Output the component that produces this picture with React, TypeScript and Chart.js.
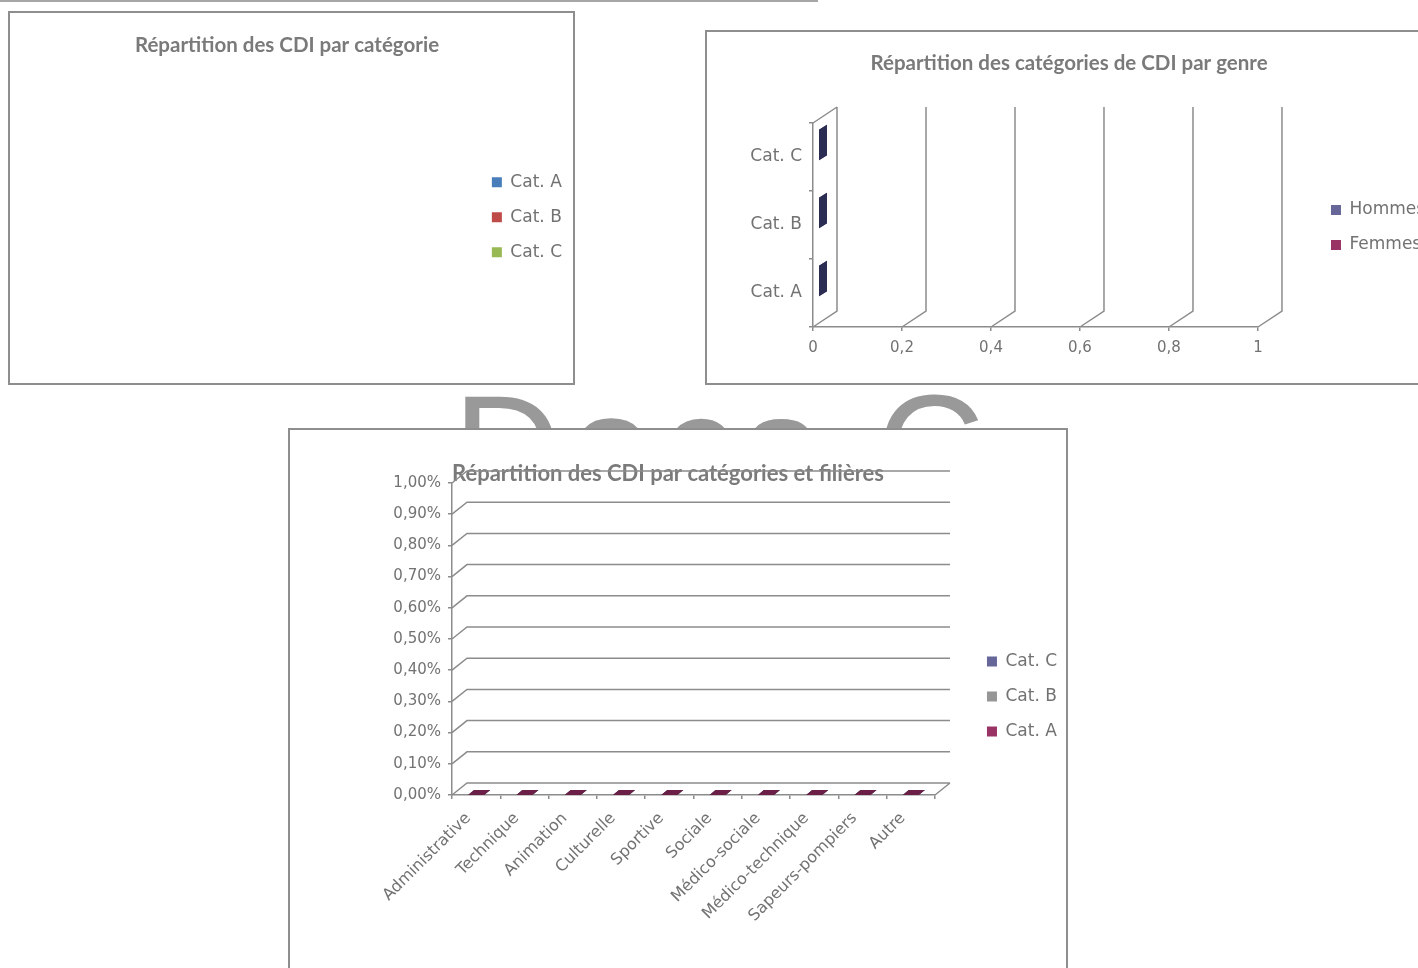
import React, { useEffect, useRef } from 'react';
import { Chart, registerables } from 'chart.js';

Chart.register(...registerables);

// ---------------- Data ----------------
const pieCategories = ['Cat. A', 'Cat. B', 'Cat. C'];
const pieValues = [0, 0, 0];

const genderCategories = ['Cat. A', 'Cat. B', 'Cat. C'];
const hommesValues = [0, 0, 0];
const femmesValues = [0, 0, 0];
const genderTickValues = [0, 0.2, 0.4, 0.6, 0.8, 1];

const filieres = [
  'Administrative',
  'Technique',
  'Animation',
  'Culturelle',
  'Sportive',
  'Sociale',
  'Médico-sociale',
  'Médico-technique',
  'Sapeurs-pompiers',
  'Autre',
];
const catAValues = [0, 0, 0, 0, 0, 0, 0, 0, 0, 0];
const catBValues = [0, 0, 0, 0, 0, 0, 0, 0, 0, 0];
const catCValues = [0, 0, 0, 0, 0, 0, 0, 0, 0, 0];
const percentTickValues = [0, 0.001, 0.002, 0.003, 0.004, 0.005, 0.006, 0.007, 0.008, 0.009, 0.01];

// ---------------- Styles ----------------
const TITLE_FONT = { family: 'Lato', weight: 'bold', size: 20.5 };
const TITLE_FONT_BIG = { family: 'Lato', weight: 'bold', size: 22 };
const TITLE_COLOR = '#7a7a7a';
const LABEL_FONT = { family: 'DejaVu Sans', size: 17 };
const NUM_FONT = { family: 'DejaVu Sans', size: 15 };
const ROT_FONT = { family: 'DejaVu Sans', size: 16 };
const TEXT_COLOR = '#727272';
const AXIS_COLOR = '#8c8c8c';

const fmtDec = (v: number) => String(Math.round(v * 10) / 10).replace('.', ',');
const fmtPct = (v: number) => (v * 100).toFixed(2).replace('.', ',') + '%';

// ---------------- Plugins ----------------
const threeDPlugin = {
  id: 'threeD',
  beforeDatasetsDraw(chart: any, _args: any, opts: any) {
    if (!opts || !opts.mode) return;
    const ctx = chart.ctx;
    const { left, right, top, bottom } = chart.chartArea;
    const dx = opts.dx;
    const dy = opts.dy;
    ctx.save();
    ctx.strokeStyle = opts.color;
    ctx.lineWidth = opts.lineWidth;
    ctx.beginPath();
    if (opts.mode === 'horizontal') {
      const xs = chart.scales.x;
      xs.ticks.forEach((t: any) => {
        const px = xs.getPixelForValue(t.value);
        ctx.moveTo(px, bottom);
        ctx.lineTo(px + dx, bottom - dy);
        ctx.lineTo(px + dx, top - dy);
      });
      ctx.moveTo(left, top);
      ctx.lineTo(left + dx, top - dy);
    } else {
      const ys = chart.scales.y;
      ys.ticks.forEach((t: any) => {
        const py = ys.getPixelForValue(t.value);
        ctx.moveTo(left, py);
        ctx.lineTo(left + dx, py - dy);
        ctx.lineTo(right + dx, py - dy);
      });
      ctx.moveTo(right, bottom);
      ctx.lineTo(right + dx, bottom - dy);
    }
    ctx.stroke();
    ctx.restore();
  },
  afterDatasetsDraw(chart: any, _args: any, opts: any) {
    if (!opts || !opts.mode) return;
    const ctx = chart.ctx;
    const f = opts.face;
    ctx.save();
    for (let i = chart.data.datasets.length - 1; i >= 0; i--) {
      const meta = chart.getDatasetMeta(i);
      if (meta.hidden) continue;
      ctx.fillStyle = opts.faceColors[i];
      meta.data.forEach((el: any) => {
        const p = el.getProps(['x', 'y', 'base', 'width', 'height'], true);
        ctx.beginPath();
        if (opts.mode === 'horizontal') {
          const e = Math.max(p.x, p.base);
          const yT = p.y - p.height / 2;
          const yB = p.y + p.height / 2;
          ctx.moveTo(e + f.x0, yT - f.y0);
          ctx.lineTo(e + f.x1, yT - f.y1);
          ctx.lineTo(e + f.x1, yB - f.y1);
          ctx.lineTo(e + f.x0, yB - f.y0);
        } else {
          const t = Math.min(p.y, p.base);
          const xL = p.x - p.width / 2;
          const xR = p.x + p.width / 2;
          ctx.moveTo(xL + f.x0, t - f.y0);
          ctx.lineTo(xR + f.x0, t - f.y0);
          ctx.lineTo(xR + f.x1, t - f.y1);
          ctx.lineTo(xL + f.x1, t - f.y1);
        }
        ctx.closePath();
        ctx.fill();
      });
    }
    ctx.restore();
  },
};

// moves the legend / title blocks after the layout has been computed
const boxShiftPlugin = {
  id: 'boxShift',
  afterLayout(chart: any, _args: any, opts: any) {
    const move = (b: any, s: any) => {
      if (!b || !s) return;
      const dx = s.dx || 0;
      const dy = s.dy || 0;
      b.left += dx;
      b.right += dx;
      b.top += dy;
      b.bottom += dy;
    };
    if (!opts) return;
    move(chart.legend, opts.legend);
    move(chart.titleBlock, opts.title);
  },
};

const legendLabels = () => ({
  boxWidth: 10,
  boxHeight: 10,
  padding: 18,
  font: LABEL_FONT,
  color: TEXT_COLOR,
});

// ---------------- Configs ----------------
const pieConfig = (): any => ({
  type: 'pie',
  data: {
    labels: pieCategories,
    datasets: [
      {
        data: pieValues,
        backgroundColor: ['#4A7EBB', '#BE4B48', '#98B954'],
        borderWidth: 0,
      },
    ],
  },
  options: {
    responsive: false,
    animation: false,
    layout: { padding: { left: 13, right: 22, top: 0, bottom: 17.6 } },
    plugins: {
      title: {
        display: true,
        text: 'Répartition des CDI par catégorie',
        font: TITLE_FONT,
        color: TITLE_COLOR,
        padding: { top: 19.7, bottom: 10 },
      },
      legend: { position: 'right', fullSize: false, labels: legendLabels() },
      boxShift: { legend: { dx: 21, dy: 1 } },
      tooltip: { enabled: false },
    },
  },
  plugins: [boxShiftPlugin],
});

const genderConfig = (): any => ({
  type: 'bar',
  data: {
    labels: genderCategories,
    datasets: [
      { label: 'Hommes', data: hommesValues, backgroundColor: '#666699', borderWidth: 0 },
      { label: 'Femmes', data: femmesValues, backgroundColor: '#993366', borderWidth: 0 },
    ],
  },
  options: {
    indexAxis: 'y',
    responsive: false,
    animation: false,
    layout: { padding: { left: 42, right: 50.9, top: 0, bottom: 0 } },
    datasets: { bar: { grouped: false, barPercentage: 0.45, categoryPercentage: 1 } },
    scales: {
      x: {
        type: 'linear',
        min: 0,
        max: 1,
        afterBuildTicks: (s: any) => {
          s.ticks = genderTickValues.map((v) => ({ value: v }));
        },
        afterFit: (s: any) => {
          s.height = 56;
        },
        grid: { drawOnChartArea: false, tickLength: 4, color: AXIS_COLOR, lineWidth: 1.5 },
        border: { color: AXIS_COLOR, width: 1.5 },
        ticks: { font: NUM_FONT, color: TEXT_COLOR, padding: 8, callback: (v: any) => fmtDec(Number(v)) },
      },
      y: {
        type: 'category',
        reverse: true,
        afterFit: (s: any) => {
          s.width = 64;
        },
        grid: { drawOnChartArea: false, tickLength: 4, color: AXIS_COLOR, lineWidth: 1.5 },
        border: { color: AXIS_COLOR, width: 1.5 },
        ticks: { font: LABEL_FONT, color: TEXT_COLOR, padding: 7 },
      },
    },
    plugins: {
      title: {
        display: true,
        text: 'Répartition des catégories de CDI par genre',
        font: TITLE_FONT,
        color: TITLE_COLOR,
        padding: { top: 18.7, bottom: 47.7 },
      },
      legend: { position: 'right', fullSize: false, labels: legendLabels() },
      boxShift: { legend: { dx: 55, dy: 2.5 }, title: { dx: 4.5, dy: 0 } },
      threeD: {
        mode: 'horizontal',
        dx: 24,
        dy: 16,
        color: AXIS_COLOR,
        lineWidth: 1.5,
        faceColors: ['#2c2d52', '#2c2d52'],
        face: { x0: 6, x1: 14, y0: 12, y1: 17 },
      },
      tooltip: { enabled: false },
    },
  },
  plugins: [threeDPlugin, boxShiftPlugin],
});

const filiereConfig = (): any => ({
  type: 'bar',
  data: {
    labels: filieres,
    datasets: [
      { label: 'Cat. A', data: catAValues, backgroundColor: '#993366', borderWidth: 0 },
      { label: 'Cat. B', data: catBValues, backgroundColor: '#969696', borderWidth: 0 },
      { label: 'Cat. C', data: catCValues, backgroundColor: '#666699', borderWidth: 0 },
    ],
  },
  options: {
    responsive: false,
    animation: false,
    layout: { padding: { left: 34.4, right: 32.9, top: 0, bottom: 0 } },
    datasets: { bar: { grouped: false, barPercentage: 0.33, categoryPercentage: 1 } },
    scales: {
      x: {
        type: 'category',
        afterFit: (s: any) => {
          s.height = 173;
        },
        grid: { drawOnChartArea: false, tickLength: 4, color: AXIS_COLOR, lineWidth: 1.5 },
        border: { color: AXIS_COLOR, width: 1.5 },
        ticks: {
          font: ROT_FONT,
          color: TEXT_COLOR,
          maxRotation: 45,
          minRotation: 45,
          autoSkip: false,
          padding: 10,
          labelOffset: -8,
        },
      },
      y: {
        type: 'linear',
        min: 0,
        max: 0.01,
        afterBuildTicks: (s: any) => {
          s.ticks = percentTickValues.map((v) => ({ value: v }));
        },
        afterFit: (s: any) => {
          s.width = 127.6;
        },
        grid: { drawOnChartArea: false, tickLength: 4, color: AXIS_COLOR, lineWidth: 1.5 },
        border: { color: AXIS_COLOR, width: 1.5 },
        ticks: { font: NUM_FONT, color: TEXT_COLOR, padding: 7, callback: (v: any) => fmtPct(Number(v)) },
      },
    },
    plugins: {
      title: {
        display: true,
        text: 'Répartition des CDI par catégories et filières',
        font: TITLE_FONT_BIG,
        color: TITLE_COLOR,
        padding: { top: 30.8, bottom: -4.2 },
      },
      legend: { position: 'right', fullSize: false, reverse: true, labels: legendLabels() },
      boxShift: { legend: { dx: 34, dy: 57.5 }, title: { dx: -10.75, dy: 0 } },
      threeD: {
        mode: 'vertical',
        dx: 15,
        dy: 12,
        color: AXIS_COLOR,
        lineWidth: 1.5,
        faceColors: ['#6b1f46', '#5e5e5e', '#3d3d66'],
        face: { x0: 0, x1: 6, y0: 0, y1: 5 },
      },
      tooltip: { enabled: false },
    },
  },
  plugins: [threeDPlugin, boxShiftPlugin],
});

// ---------------- Components ----------------
function ChartBox(props: any) {
  const { left, top, width, height, canvasW, canvasH, makeConfig } = props;
  const ref = useRef<HTMLCanvasElement>(null);
  useEffect(() => {
    const chart = new Chart(ref.current as HTMLCanvasElement, makeConfig());
    return () => chart.destroy();
  }, []);
  return (
    <div
      style={{
        position: 'absolute',
        left,
        top,
        width,
        height,
        border: '2px solid #8e8e8e',
        boxSizing: 'border-box',
        background: '#fff',
        overflow: 'hidden',
      }}
    >
      <canvas ref={ref} width={canvasW} height={canvasH} style={{ display: 'block', width: canvasW, height: canvasH }} />
    </div>
  );
}

export default function App() {
  return (
    <div
      style={{
        position: 'absolute',
        left: 0,
        top: 0,
        width: 1418,
        height: 968,
        overflow: 'hidden',
        background: '#fff',
      }}
    >
      <div style={{ position: 'absolute', left: 0, top: 0, width: 818, height: 2, background: '#a6a6a6' }} />
      <div
        style={{
          position: 'absolute',
          left: 453,
          top: 373.4,
          fontFamily: 'Liberation Sans',
          fontSize: 150,
          lineHeight: '150px',
          letterSpacing: 8,
          color: '#999999',
          whiteSpace: 'pre',
        }}
      >
        Docs C
      </div>
      <ChartBox left={8} top={11} width={567} height={374} canvasW={563} canvasH={370} makeConfig={pieConfig} />
      <ChartBox left={705} top={30} width={728} height={355} canvasW={724} canvasH={351} makeConfig={genderConfig} />
      <ChartBox left={288} top={428} width={780} height={560} canvasW={776} canvasH={538} makeConfig={filiereConfig} />
    </div>
  );
}
